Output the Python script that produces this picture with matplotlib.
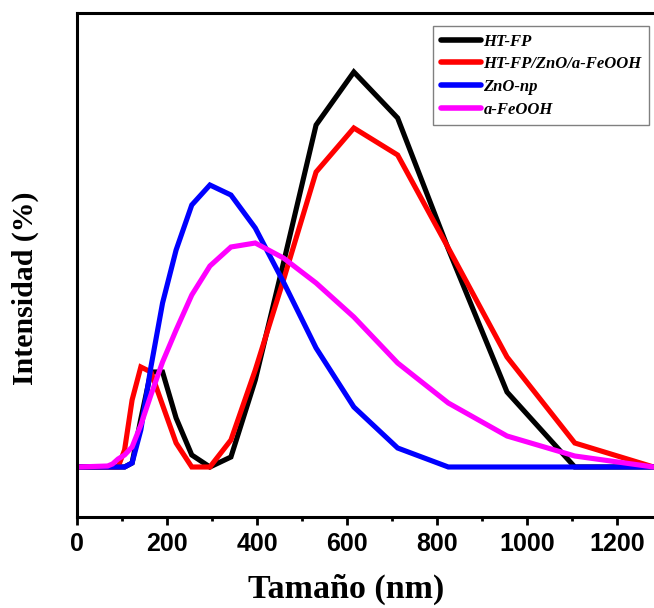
import numpy as np
import matplotlib
matplotlib.use("Agg")
import matplotlib.pyplot as plt
from matplotlib.ticker import MultipleLocator

# DLS size bins (nm) and intensity distributions (%)
size_nm = [0.4, 68.06, 78.82, 91.28, 105.7, 122.4, 141.8, 164.2, 190.1, 220.2,
           255.0, 295.3, 342.0, 396.1, 458.7, 531.2, 615.1, 712.4, 825.0,
           955.4, 1106, 1281, 1484]

ht_fp = [0, 0, 0, 0, 0, 0.2, 2.4, 4.75, 4.75, 2.45,
         0.6, 0, 0.5, 4.35, 10.2, 17.1, 19.75, 17.45, 10.9,
         3.75, 0, 0, 0]

ht_fp_zno_feooh = [0, 0, 0, 0, 0.85, 3.35, 5.0, 4.75, 3.1, 1.2,
                   0, 0, 1.35, 4.85, 9.35, 14.75, 16.95, 15.6, 10.95,
                   5.5, 1.2, 0, 0]

zno_np = [0, 0, 0, 0, 0, 0.2, 1.85, 5.0, 8.2, 10.85,
          13.1, 14.1, 13.6, 11.95, 9.25, 5.95, 3.0, 0.95, 0,
          0, 0, 0, 0]

feooh = [0, 0.05, 0.15, 0.4, 0.6, 1.0, 2.1, 3.6, 5.25, 6.85,
         8.6, 10.05, 11.0, 11.2, 10.45, 9.2, 7.5, 5.2, 3.2,
         1.55, 0.55, 0, 0]

labels = ["HT-FP", "HT-FP/ZnO/a-FeOOH", "ZnO-np", "a-FeOOH"]
colors = ["black", "#ff0000", "#0000ff", "#ff00ff"]

fig = plt.figure(figsize=(6.54, 6.08), dpi=100)
ax = fig.add_axes([77 / 654, 91 / 608, 577 / 654, 504 / 608])

for y, lab, c in zip([ht_fp, ht_fp_zno_feooh, zno_np, feooh], labels, colors):
    ax.plot(size_nm, y, color=c, lw=3.7, label=lab, solid_joinstyle="miter")

ax.set_xlim(0, 1282)
ax.set_ylim(-2.5, 22.7)

ax.spines["right"].set_visible(False)
for s in ["left", "bottom", "top"]:
    ax.spines[s].set_linewidth(2.2)

ax.xaxis.set_major_locator(MultipleLocator(200))
ax.xaxis.set_minor_locator(MultipleLocator(100))
ax.tick_params(axis="x", which="major", direction="out", length=6, width=2,
               pad=5, labelsize=18)
ax.tick_params(axis="x", which="minor", direction="out", length=3, width=2)
ax.tick_params(axis="x", top=False, which="both")
ax.set_yticks([])
for t in ax.get_xticklabels():
    t.set_fontfamily(["Liberation Sans Narrow", "Liberation Sans", "DejaVu Sans"])
    t.set_fontweight("bold")

ax.set_xlabel("Tamaño (nm)", fontfamily="Liberation Serif", fontweight="bold",
              fontsize=24.5)
ax.xaxis.set_label_coords(0.466, -0.112)
ax.set_ylabel("Intensidad (%)", fontfamily="Liberation Serif", fontweight="bold",
              fontsize=21.5)
ax.yaxis.set_label_coords(-0.066, 0.454)

leg = ax.legend(loc="upper right", bbox_to_anchor=(649 / 654, 582 / 608),
                bbox_transform=fig.transFigure, borderaxespad=0,
                prop={"family": "Liberation Serif", "weight": "bold",
                      "style": "italic", "size": 12},
                handlelength=2.4, handletextpad=0.15, labelspacing=0.4,
                fancybox=False, framealpha=1, borderpad=0.45)
leg.get_frame().set_edgecolor("#808080")
leg.get_frame().set_linewidth(1.0)
for h in leg.get_lines():
    h.set_linewidth(4)
    h.set_solid_capstyle("round")

fig.savefig("out.png", dpi=100)
